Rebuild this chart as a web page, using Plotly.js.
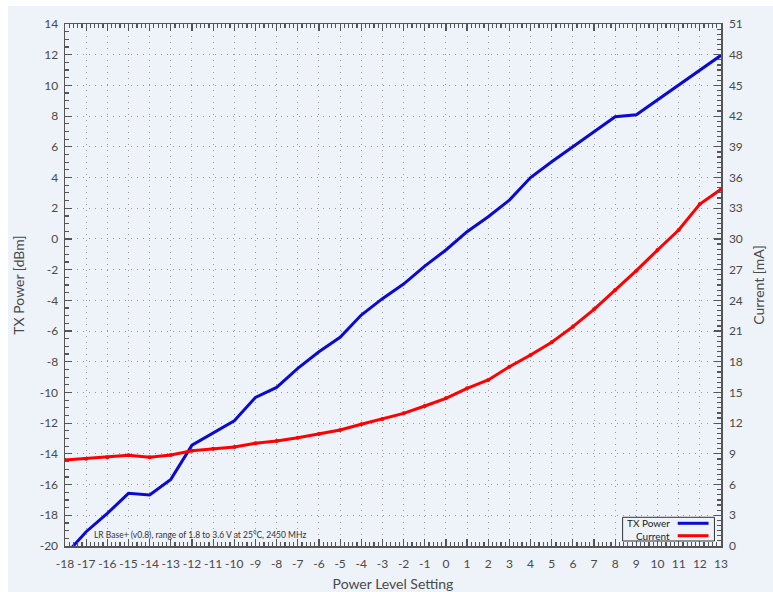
<!DOCTYPE html>
<html>
<head>
<meta charset="utf-8">
<script src="https://cdn.plot.ly/plotly-3.0.1.min.js"></script>
<style>
  html, body { margin: 0; padding: 0; background: #ffffff; }
  #chart { position: absolute; left: 8px; top: 6px; width: 765px; height: 586px; }
</style>
</head>
<body>
<div id="chart"></div>
<script>
// Data
const powerLevels = [-18,-17,-16,-15,-14,-13,-12,-11,-10,-9,-8,-7,-6,-5,-4,-3,-2,-1,0,1,2,3,4,5,6,7,8,9,10,11,12,13];
const txPower = [-20.6,-19.07,-17.88,-16.57,-16.68,-15.66,-13.43,-12.62,-11.84,-10.32,-9.67,-8.43,-7.35,-6.41,-4.96,-3.89,-2.94,-1.77,-0.72,0.47,1.45,2.53,4.0,5.03,6.0,6.96,7.96,8.09,9.05,10.03,11.0,11.96];
const current = [8.40,8.53,8.66,8.86,8.66,8.89,9.31,9.51,9.67,10.03,10.26,10.58,10.94,11.33,11.89,12.41,12.96,13.68,14.43,15.41,16.22,17.52,18.66,19.90,21.43,23.12,25.01,26.90,28.92,30.87,33.41,34.85];
const seriesNames = ["TX Power", "Current"];
const seriesColors = ["#0a0ad0", "#ff0000"];
const noteText = "LR Base+ (v0.8), range of 1.8 to 3.6 V at 25°C, 2450 MHz";

// Tick labels (plain hyphen minus as in the reference)
const xTickVals = powerLevels;
const xTickText = ["-18","-17","-16","-15","-14","-13","-12","-11","-10","-9","-8","-7","-6","-5","-4","-3","-2","-1","0","1","2","3","4","5","6","7","8","9","10","11","12","13"];
const yTickVals = [-20,-18,-16,-14,-12,-10,-8,-6,-4,-2,0,2,4,6,8,10,12,14];
const yTickText = ["-20","-18","-16","-14","-12","-10","-8","-6","-4","-2","0","2","4","6","8","10","12","14"];
const y2TickVals = [0,3,6,9,12,15,18,21,24,27,30,33,36,39,42,45,48,51];

const FONT = "Lato, 'Open Sans', 'DejaVu Sans', sans-serif";
const BG = "#eef2f9";
const GRID = "#9a9a9a";
const TXT = "#4a4a4a";

const traces = [
  {
    x: powerLevels, y: txPower, name: seriesNames[0], type: "scatter", mode: "lines",
    line: { color: seriesColors[0], width: 3 }, yaxis: "y", showlegend: false
  },
  {
    x: powerLevels, y: current, name: seriesNames[1], type: "scatter", mode: "lines+markers",
    line: { color: seriesColors[1], width: 3 }, marker: { color: seriesColors[1], size: 4 },
    yaxis: "y2", showlegend: false
  }
];

const axisCommon = {
  showline: true, linecolor: "#555555", linewidth: 1.5,
  ticks: "inside", ticklen: 7, tickcolor: "#555555", tickwidth: 1.2,
  tickfont: { family: FONT, size: 12, color: TXT },
  zeroline: false, tickangle: 0, automargin: false
};

// custom legend (text left, line sample right) built from the series arrays
const lgX0 = 0.850, lgX1 = 0.990, lgY0 = 0.0096, lgY1 = 0.055;
const lgRows = [0.0435, 0.0197];
const shapes = [
  { type: "rect", xref: "paper", yref: "paper", x0: lgX0, x1: lgX1, y0: lgY0, y1: lgY1,
    line: { color: "#333333", width: 1 }, fillcolor: BG }
];
const annotations = [
  { xref: "paper", yref: "paper", x: 0.041, y: 0.021, xanchor: "left", yanchor: "middle",
    text: noteText, showarrow: false, font: { family: FONT, size: 8.5, color: "#333333" } }
];
seriesNames.forEach((n, i) => {
  shapes.push({ type: "line", xref: "paper", yref: "paper", x0: 0.934, x1: 0.981,
    y0: lgRows[i], y1: lgRows[i], line: { color: seriesColors[i], width: 3 } });
  annotations.push({ xref: "paper", yref: "paper", x: 0.925, y: lgRows[i], xanchor: "right",
    yanchor: "middle", text: n, showarrow: false, font: { family: FONT, size: 10, color: "#222222" } });
});

const layout = {
  width: 765, height: 586,
  margin: { l: 57, r: 52, t: 18, b: 46 },
  paper_bgcolor: BG, plot_bgcolor: BG,
  showlegend: false,
  xaxis: Object.assign({}, axisCommon, {
    range: [-18, 13], tickmode: "array", tickvals: xTickVals, ticktext: xTickText, mirror: "ticks",
    ticklabelstandoff: 6,
    showgrid: true, gridcolor: GRID, griddash: "1px,5px", gridwidth: 1,
    minor: { ticks: "inside", ticklen: 4, dtick: 0.2, tick0: 0, tickcolor: "#555555", showgrid: false },
    title: { text: "Power Level Setting", font: { family: FONT, size: 14, color: TXT }, standoff: 14 }
  }),
  yaxis: Object.assign({}, axisCommon, {
    range: [-20, 14], tickmode: "array", tickvals: yTickVals, ticktext: yTickText,
    ticklabelstandoff: 3,
    showgrid: true, gridcolor: GRID, griddash: "1px,5px", gridwidth: 1,
    minor: { ticks: "inside", ticklen: 4, dtick: 0.5, tick0: 0, tickcolor: "#555555", showgrid: false },
    title: { text: "TX Power [dBm]", font: { family: FONT, size: 14, color: TXT }, standoff: 12 }
  }),
  yaxis2: Object.assign({}, axisCommon, {
    range: [0, 51], tickmode: "array", tickvals: y2TickVals, overlaying: "y", side: "right",
    ticklabelstandoff: 4,
    showgrid: false,
    minor: { ticks: "inside", ticklen: 4, dtick: 0.5, tick0: 0, tickcolor: "#555555", showgrid: false },
    title: { text: "Current [mA]", font: { family: FONT, size: 14, color: TXT }, standoff: 12 }
  }),
  shapes: shapes,
  annotations: annotations
};

Plotly.newPlot("chart", traces, layout, { displayModeBar: false, staticPlot: true });
</script>
</body>
</html>
